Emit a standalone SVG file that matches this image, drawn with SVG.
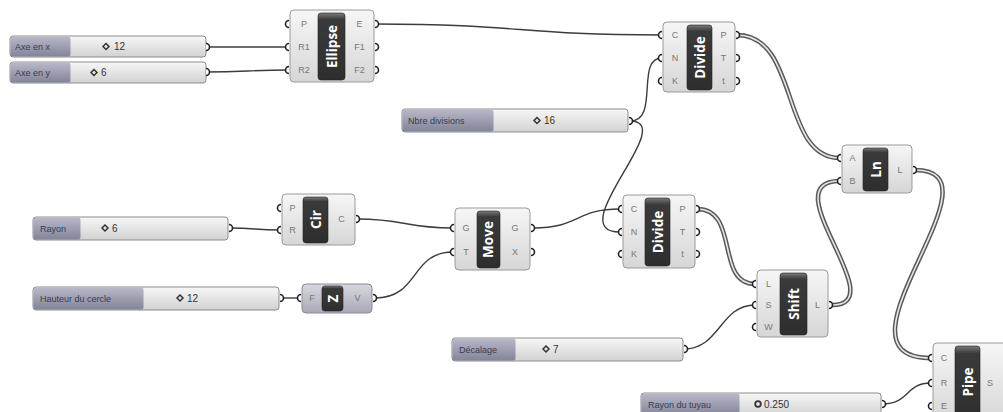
<svg xmlns="http://www.w3.org/2000/svg" xmlns:xlink="http://www.w3.org/1999/xlink" width="1003" height="412" viewBox="0 0 1003 412">
<defs>
<linearGradient id="gBox" x1="0" y1="0" x2="0" y2="1"><stop offset="0" stop-color="#f6f6f6"/><stop offset="1" stop-color="#d6d6d6"/></linearGradient>
<linearGradient id="gBoxZ" x1="0" y1="0" x2="0" y2="1"><stop offset="0" stop-color="#d8d8e0"/><stop offset="1" stop-color="#a9a9b6"/></linearGradient>
<linearGradient id="gBand" x1="0" y1="0" x2="0" y2="1"><stop offset="0" stop-color="#7a7a7a"/><stop offset="0.1" stop-color="#3a3a3a"/><stop offset="1" stop-color="#2e2e2e"/></linearGradient>
<linearGradient id="gLab" x1="0" y1="0" x2="0" y2="1"><stop offset="0" stop-color="#b8b8c8"/><stop offset="1" stop-color="#84849a"/></linearGradient>
<linearGradient id="gVal" x1="0" y1="0" x2="0" y2="1"><stop offset="0" stop-color="#f7f7f7"/><stop offset="1" stop-color="#d2d2d2"/></linearGradient>
<path id="gin" d="M0,-3.5 A3.5,3.5 0 0 0 0,3.5" fill="#fff" stroke="#222" stroke-width="1.6"/>
<path id="gout" d="M0,-3.5 A3.5,3.5 0 0 1 0,3.5" fill="#fff" stroke="#222" stroke-width="1.6"/>
</defs>
<style>
.box{fill:url(#gBox);stroke:#9a9a9a;stroke-width:1}
.boxz{fill:url(#gBoxZ);stroke:#8a8a96;stroke-width:1}
.band{fill:url(#gBand);stroke:#222;stroke-width:0.6}
.bt{font-family:"Open Sans","Liberation Sans",sans-serif;font-weight:bold;font-size:13.5px;fill:#fff;text-anchor:middle}
.pt{font-family:"Liberation Sans",sans-serif;font-size:9px;fill:#777;text-anchor:middle}
.sl{stroke:#8c8c8c;stroke-width:1}
.lab{fill:url(#gLab)}
.val{fill:url(#gVal)}
.lt{font-family:"Liberation Sans",sans-serif;font-size:9px;fill:#3a3a50}
.vt{font-family:"Liberation Sans",sans-serif;font-size:10px;fill:#333}
.dia{fill:none;stroke:#333;stroke-width:1.5}
.w{fill:none;stroke:#3c3c3c;stroke-width:1.4}
.wo{fill:none;stroke:#5a5a5a;stroke-width:4.6}
.wi{fill:none;stroke:#e6e6e6;stroke-width:1.6}
</style>
<rect width="1003" height="412" fill="#ffffff"/>

<g id="connectors">
<path class="w" d="M206,47 C240,47 255,47 288,47"/>
<path class="w" d="M206,72 C245,72 250,70 288,70"/>
<path class="w" d="M376,24 C520,24 520,35 662,35"/>
<path class="w" d="M630,121 C660,121 635,58 662,58"/>
<path class="w" d="M630,121 C680,121 560,232 620,232"/>
<path class="w" d="M230,228 C255,228 255,230 280,230"/>
<path class="w" d="M357,219 C405,219 405,228 453,228"/>
<path class="w" d="M281,298 L300,298"/>
<path class="w" d="M375,298 C420,298 410,252 453,252"/>
<path class="w" d="M533,228 C580,228 575,209 620,209"/>
<path class="w" d="M684,349 C720,349 720,305 755,305"/>
<path class="w" d="M882,404 C910,404 905,383 931,383"/>
<g>
<path class="wo" d="M737,35 C800,35 780,158 840,158"/>
<path class="wi" d="M737,35 C800,35 780,158 840,158"/>
<path class="wo" d="M697,209 C740,209 715,284 755,284"/>
<path class="wi" d="M697,209 C740,209 715,284 755,284"/>
<path class="wo" d="M832,305 C895,305 770,181 840,181"/>
<path class="wi" d="M832,305 C895,305 770,181 840,181"/>
<path class="wo" d="M915,170 C1010,170 820,358 931,358"/>
<path class="wi" d="M915,170 C1010,170 820,358 931,358"/>
</g>
</g>

<g id="slider-axe-x">
<rect class="sl val" x="10" y="36" width="196" height="21" rx="3"/>
<rect class="lab" x="10.5" y="36.5" width="60" height="20" rx="2.5"/>
<text class="lt" x="15" y="50">Axe en x</text>
<path class="dia" d="M106,43.5 L109,46.5 L106,49.5 L103,46.5 Z"/>
<text class="vt" x="114" y="50">12</text>
<use href="#gout" x="206" y="47"/>
</g>
<g id="slider-axe-y">
<rect class="sl val" x="10" y="62" width="196" height="21" rx="3"/>
<rect class="lab" x="10.5" y="62.5" width="60" height="20" rx="2.5"/>
<text class="lt" x="15" y="76">Axe en y</text>
<path class="dia" d="M94,69.5 L97,72.5 L94,75.5 L91,72.5 Z"/>
<text class="vt" x="101" y="76">6</text>
<use href="#gout" x="206" y="72"/>
</g>
<g id="slider-nbre">
<rect class="sl val" x="402" y="109" width="226" height="23" rx="3"/>
<rect class="lab" x="402.5" y="109.5" width="91" height="22" rx="2.5"/>
<text class="lt" x="408" y="124">Nbre divisions</text>
<path class="dia" d="M537,117.5 L540,120.5 L537,123.5 L534,120.5 Z"/>
<text class="vt" x="544" y="124">16</text>
<use href="#gout" x="629" y="121"/>
</g>
<g id="slider-rayon">
<rect class="sl val" x="33" y="217" width="195" height="23" rx="3"/>
<rect class="lab" x="33.5" y="217.5" width="47" height="22" rx="2.5"/>
<text class="lt" x="40" y="232">Rayon</text>
<path class="dia" d="M105,225 L108,228 L105,231 L102,228 Z"/>
<text class="vt" x="112" y="232">6</text>
<use href="#gout" x="229" y="228"/>
</g>
<g id="slider-hauteur">
<rect class="sl val" x="33" y="287" width="246" height="23" rx="3"/>
<rect class="lab" x="33.5" y="287.5" width="110" height="22" rx="2.5"/>
<text class="lt" x="40" y="302">Hauteur du cercle</text>
<path class="dia" d="M180,295 L183,298 L180,301 L177,298 Z"/>
<text class="vt" x="187" y="302">12</text>
<use href="#gout" x="280" y="298"/>
</g>
<g id="slider-decalage">
<rect class="sl val" x="452" y="338" width="231" height="23" rx="3"/>
<rect class="lab" x="452.5" y="338.5" width="63" height="22" rx="2.5"/>
<text class="lt" x="459" y="353">Décalage</text>
<path class="dia" d="M546,346 L549,349 L546,352 L543,349 Z"/>
<text class="vt" x="553" y="353">7</text>
<use href="#gout" x="684" y="349"/>
</g>
<g id="slider-rayon-tuyau">
<rect class="sl val" x="641" y="393" width="240" height="23" rx="3"/>
<rect class="lab" x="641.5" y="393.5" width="98" height="22" rx="2.5"/>
<text class="lt" x="648" y="408">Rayon du tuyau</text>
<circle cx="758" cy="404" r="2.8" fill="none" stroke="#333" stroke-width="1.8"/>
<text class="vt" x="764" y="408">0.250</text>
<use href="#gout" x="882" y="404"/>
</g>

<g id="ellipse">
<rect class="box" x="290" y="10" width="84" height="72" rx="4"/>
<rect class="band" x="318" y="13" width="27" height="67" rx="3"/>
<text class="bt" transform="translate(336.5,46.5) rotate(-90)">Ellipse</text>
<text class="pt" x="304" y="27">P</text><text class="pt" x="304" y="50">R1</text><text class="pt" x="304" y="73">R2</text>
<text class="pt" x="359.5" y="27">E</text><text class="pt" x="359.5" y="50">F1</text><text class="pt" x="359.5" y="73">F2</text>
<use href="#gin" x="289" y="24"/><use href="#gin" x="289" y="47"/><use href="#gin" x="289" y="70"/>
<use href="#gout" x="375" y="24"/><use href="#gout" x="375" y="47"/><use href="#gout" x="375" y="70"/>
</g>
<g id="divide-1">
<rect class="box" x="663" y="22" width="72" height="70" rx="4"/>
<rect class="band" x="687" y="25" width="25" height="65" rx="3"/>
<text class="bt" transform="translate(704.5,57.5) rotate(-90)">Divide</text>
<text class="pt" x="675" y="38">C</text><text class="pt" x="675" y="61">N</text><text class="pt" x="675" y="84">K</text>
<text class="pt" x="723.5" y="38">P</text><text class="pt" x="723.5" y="61">T</text><text class="pt" x="723.5" y="84">t</text>
<use href="#gin" x="662" y="35"/><use href="#gin" x="662" y="58"/><use href="#gin" x="662" y="81"/>
<use href="#gout" x="736" y="35"/><use href="#gout" x="736" y="58"/><use href="#gout" x="736" y="81"/>
</g>
<g id="cir">
<rect class="box" x="282" y="194" width="73" height="51" rx="4"/>
<rect class="band" x="303" y="197" width="25" height="46" rx="3"/>
<text class="bt" transform="translate(320.5,219.5) rotate(-90)">Cir</text>
<text class="pt" x="292.5" y="211">P</text><text class="pt" x="292.5" y="233">R</text>
<text class="pt" x="341.5" y="222">C</text>
<use href="#gin" x="281" y="208"/><use href="#gin" x="281" y="230"/>
<use href="#gout" x="356" y="219"/>
</g>
<g id="unit-z">
<rect class="boxz" x="302" y="284" width="70" height="29" rx="4"/>
<rect class="band" x="322" y="286" width="21" height="25" rx="3"/>
<text class="bt" transform="translate(337.5,298.5) rotate(-90)">Z</text>
<text class="pt" x="312" y="301">F</text>
<text class="pt" x="357.5" y="301">V</text>
<use href="#gin" x="301" y="298"/>
<use href="#gout" x="373" y="298"/>
</g>
<g id="move">
<rect class="box" x="455" y="208" width="75" height="62" rx="4"/>
<rect class="band" x="477" y="211" width="23" height="57" rx="3"/>
<text class="bt" transform="translate(493,239.5) rotate(-90)">Move</text>
<text class="pt" x="466" y="231">G</text><text class="pt" x="466" y="255">T</text>
<text class="pt" x="515" y="231">G</text><text class="pt" x="515" y="255">X</text>
<use href="#gin" x="454" y="228"/><use href="#gin" x="454" y="252"/>
<use href="#gout" x="531" y="228"/><use href="#gout" x="531" y="252"/>
</g>
<g id="divide-2">
<rect class="box" x="623" y="195" width="72" height="73" rx="4"/>
<rect class="band" x="645" y="198" width="25" height="68" rx="3"/>
<text class="bt" transform="translate(662.5,232) rotate(-90)">Divide</text>
<text class="pt" x="634" y="212">C</text><text class="pt" x="634" y="235">N</text><text class="pt" x="634" y="257">K</text>
<text class="pt" x="682.5" y="212">P</text><text class="pt" x="682.5" y="235">T</text><text class="pt" x="682.5" y="257">t</text>
<use href="#gin" x="622" y="209"/><use href="#gin" x="622" y="232"/><use href="#gin" x="622" y="254"/>
<use href="#gout" x="696" y="209"/><use href="#gout" x="696" y="232"/><use href="#gout" x="696" y="254"/>
</g>
<g id="ln">
<rect class="box" x="842" y="145" width="70" height="48" rx="4"/>
<rect class="band" x="863" y="148" width="25" height="43" rx="3"/>
<text class="bt" transform="translate(880.5,169.5) rotate(-90)">Ln</text>
<text class="pt" x="852.5" y="161">A</text><text class="pt" x="852.5" y="184">B</text>
<text class="pt" x="900" y="173">L</text>
<use href="#gin" x="841" y="158"/><use href="#gin" x="841" y="181"/>
<use href="#gout" x="913" y="170"/>
</g>
<g id="shift">
<rect class="box" x="757" y="270" width="71" height="67" rx="4"/>
<rect class="band" x="780" y="273" width="27" height="62" rx="3"/>
<text class="bt" transform="translate(798.5,304) rotate(-90)">Shift</text>
<text class="pt" x="768.5" y="287">L</text><text class="pt" x="768.5" y="308">S</text><text class="pt" x="768.5" y="330">W</text>
<text class="pt" x="817.5" y="308">L</text>
<use href="#gin" x="756" y="284"/><use href="#gin" x="756" y="305"/><use href="#gin" x="756" y="327"/>
<use href="#gout" x="829" y="305"/>
</g>
<g id="pipe">
<rect class="box" x="933" y="343" width="80" height="80" rx="4"/>
<rect class="band" x="955" y="346" width="25" height="75" rx="3"/>
<text class="bt" transform="translate(972.5,382) rotate(-90)">Pipe</text>
<text class="pt" x="944" y="361">C</text><text class="pt" x="944" y="386">R</text><text class="pt" x="944" y="409">E</text>
<text class="pt" x="990" y="386">S</text>
<use href="#gin" x="932" y="358"/><use href="#gin" x="932" y="383"/><use href="#gin" x="932" y="406"/>
</g>
</svg>
